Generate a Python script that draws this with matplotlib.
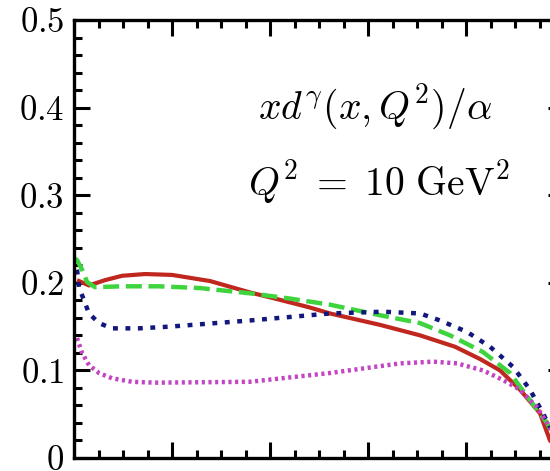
"""
Photon PDF xd^gamma(x,Q^2)/alpha at Q^2 = 10 GeV^2, four parametrisations
"""

import numpy as np
import matplotlib.pyplot as plt
from matplotlib.ticker import MultipleLocator

plt.rcParams['mathtext.fontset'] = 'cm'
plt.rcParams['font.family'] = 'serif'
plt.rcParams['font.serif'] = ['cmr10', 'DejaVu Serif']

# log10(x) and value
x_red = [-4.969, -4.847, -4.684, -4.510, -4.276, -4.0, -3.612, -3.204, -2.949, -2.6,
         -2.388, -1.878, -1.469, -1.112, -0.857, -0.653, -0.449, -0.245, -0.143, 0.0]
y_red = [0.203, 0.197, 0.203, 0.208, 0.210, 0.209, 0.202, 0.189, 0.182, 0.172,
         0.165, 0.152, 0.140, 0.127, 0.113, 0.100, 0.078, 0.051, 0.020, 0.0]

x_green = [-5.0, -4.969, -4.918, -4.867, -4.786, -4.51, -4.133, -3.714, -3.204,
           -2.796, -2.388, -1.878, -1.469, -1.163, -0.827, -0.551, -0.347, -0.173, 0.0]
y_green = [0.228, 0.226, 0.215, 0.201, 0.195, 0.196, 0.196, 0.194, 0.188,
           0.182, 0.175, 0.163, 0.154, 0.140, 0.121, 0.097, 0.066, 0.040, 0.0]

x_blue = [-4.969, -4.949, -4.898, -4.847, -4.745, -4.612, -4.337, -4.02, -3.204,
          -2.388, -1.847, -1.469, -1.265, -0.99, -0.755, -0.520, -0.347, -0.214,
          -0.143, 0.0]
y_blue = [0.215, 0.195, 0.180, 0.165, 0.154, 0.148, 0.148, 0.150, 0.157,
          0.165, 0.167, 0.165, 0.157, 0.144, 0.127, 0.104, 0.078, 0.051,
          0.035, 0.0]

x_mag = [-4.969, -4.918, -4.847, -4.745, -4.612, -4.408, -4.173, -3.204, -2.388,
         -1.673, -1.337, -1.092, -0.827, -0.622, -0.449, -0.276, -0.143, 0.0]
y_mag = [0.137, 0.120, 0.106, 0.097, 0.091, 0.087, 0.086, 0.087, 0.097,
         0.108, 0.110, 0.108, 0.100, 0.089, 0.078, 0.058, 0.035, 0.0]

yticks = [0, 0.1, 0.2, 0.3, 0.4, 0.5]
ytick_labels = ['$0$', '$0.1$', '$0.2$', '$0.3$', '$0.4$', '$0.5$']

fig = plt.figure(figsize=(5.5, 4.71), dpi=100)
# right edge of the frame lies outside the picture (cropped figure)
ax = fig.add_axes([74/550, 13/471, 490/550, 438/471])

ax.plot(x_red, y_red, color='#c0271e', lw=3.0, solid_capstyle='butt')
ax.plot(x_green, y_green, color='#3dd43d', lw=3.2, dashes=(3.6, 1.5))
ax.plot(x_blue, y_blue, color='#12177e', lw=3.2, dashes=(1.1, 1.7))
ax.plot(x_mag, y_mag, color='#c444c4', lw=3.2, dashes=(0.7, 0.8))

ax.set_xlim(-5, 0)
ax.set_ylim(0, 0.5)
ax.xaxis.set_major_locator(MultipleLocator(1))
ax.xaxis.set_minor_locator(MultipleLocator(0.25))
ax.yaxis.set_major_locator(MultipleLocator(0.1))
ax.yaxis.set_minor_locator(MultipleLocator(0.02))
ax.set_yticks(yticks)
ax.set_yticklabels(ytick_labels, fontsize=25)
ax.set_xticklabels([])

ax.tick_params(which='both', direction='in', top=True, right=True, width=2.2)
ax.tick_params(which='major', length=11.5, pad=7)
ax.tick_params(which='minor', length=6)
for s in ax.spines.values():
    s.set_linewidth(2.4)

ax.text(-3.122, 0.40, r'$xd^{\gamma}(x,Q^2)/\alpha$', fontsize=28.5, va='center')
ax.text(-3.224, 0.314, r'$Q^2\;=\;10\ \mathrm{GeV}^2$', fontsize=28.5, va='center')

fig.savefig('out.png', dpi=100)
